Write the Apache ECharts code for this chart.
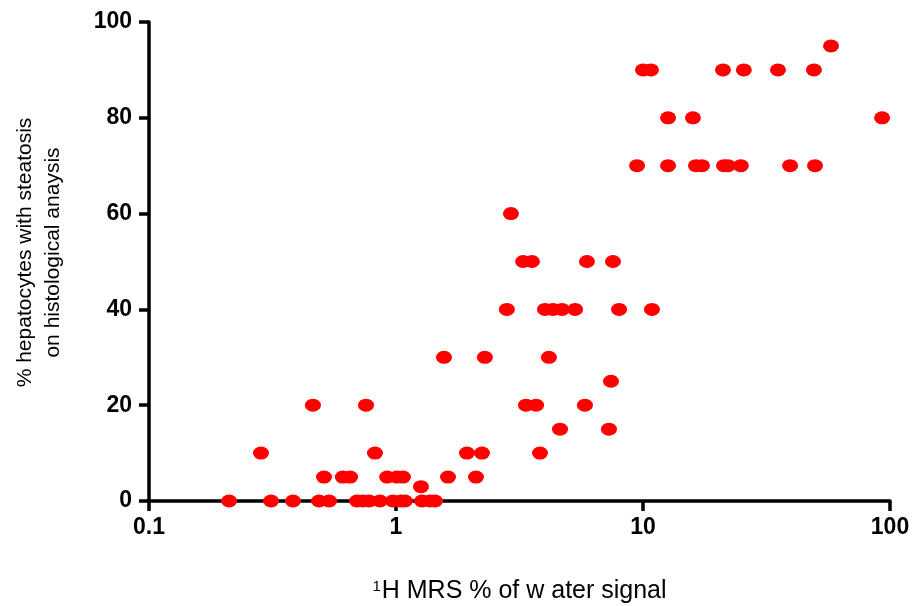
<!DOCTYPE html>
<html>
<head>
<meta charset="utf-8">
<script src="https://cdn.jsdelivr.net/npm/echarts@6/dist/echarts.min.js"></script>
<style>
  html, body { margin: 0; padding: 0; background: #fff; }
  #chart { width: 914px; height: 606px; }
</style>
</head>
<body>
<div id="chart"></div>
<script>
// MRS water-signal % (x, log scale) vs histological steatosis % (y)
const mrsValues = [
  0.211, 0.312, 0.383, 0.488, 0.536, 0.695, 0.734, 0.778, 0.861, 0.972, 1.048, 1.087, 1.274, 1.373, 1.438,
  1.262,
  0.511, 0.609, 0.652, 0.921, 1.009, 1.067, 1.624, 2.108,
  0.284, 0.822, 1.938, 2.229, 3.828,
  4.613, 7.28,
  0.461, 0.756, 3.36, 3.69, 5.82,
  7.42,
  1.564, 2.29, 4.16,
  2.81, 4.01, 4.32, 4.70, 5.31, 8.0, 10.87,
  3.27, 3.55, 5.93, 7.56,
  2.92,
  9.46, 12.63, 16.39, 17.33, 21.28, 22.08, 24.9, 39.4, 49.7,
  12.63, 15.93, 92.9,
  10.0, 10.77, 21.08, 25.6, 35.2, 49.2,
  57.7
];
const steatosisValues = [
  0, 0, 0, 0, 0, 0, 0, 0, 0, 0, 0, 0, 0, 0, 0,
  3,
  5, 5, 5, 5, 5, 5, 5, 5,
  10, 10, 10, 10, 10,
  15, 15,
  20, 20, 20, 20, 20,
  25,
  30, 30, 30,
  40, 40, 40, 40, 40, 40, 40,
  50, 50, 50, 50,
  60,
  70, 70, 70, 70, 70, 70, 70, 70, 70,
  80, 80, 80,
  90, 90, 90, 90, 90, 90,
  95
];
const xTickLabels = ['0.1', '1', '10', '100'];
const yTicks = [0, 20, 40, 60, 80, 100];

const points = mrsValues.map((v, i) => [v, steatosisValues[i]]);

const chart = echarts.init(document.getElementById('chart'));
chart.setOption({
  animation: false,
  backgroundColor: '#ffffff',
  grid: { left: 149, right: 24, top: 22, bottom: 105, containLabel: false, outerBoundsMode: 'none' },
  xAxis: {
    type: 'log',
    logBase: 10,
    min: 0.1,
    max: 100,
    name: '{sup|1}{t|H MRS % of w ater signal}',
    nameLocation: 'middle',
    nameGap: 78,
    nameTextStyle: {
      rich: {
        sup: { fontFamily: 'Liberation Sans', fontSize: 15, lineHeight: 15, color: '#000', verticalAlign: 'top', padding: [0, 1, 0, 0] },
        t: { fontFamily: 'Liberation Sans', fontSize: 25, lineHeight: 28, color: '#000', verticalAlign: 'top' }
      }
    },
    axisLine: { lineStyle: { color: '#000', width: 3.5 } },
    axisTick: { show: true, length: 10, lineStyle: { color: '#000', width: 3.5 } },
    minorTick: { show: false },
    splitLine: { show: false },
    axisLabel: {
      margin: 15,
      color: '#000',
      fontFamily: 'Liberation Sans',
      fontSize: 23,
      fontWeight: 'bold',
      formatter: function (v) {
        const idx = Math.round(Math.log10(v)) + 1;
        return xTickLabels[idx] || '';
      }
    }
  },
  yAxis: {
    type: 'value',
    min: 0,
    max: 100,
    interval: 20,
    name: '% hepatocytes with steatosis\non histological anaysis',
    nameLocation: 'middle',
    nameGap: 82,
    nameRotate: 90,
    nameTextStyle: {
      fontFamily: 'Liberation Sans',
      fontSize: 21,
      color: '#000',
      lineHeight: 28,
      padding: [0, 0, 0, 18]
    },
    axisLine: { show: true, lineStyle: { color: '#000', width: 3.5 } },
    axisTick: { show: true, length: 10, lineStyle: { color: '#000', width: 3.5 } },
    splitLine: { show: false },
    axisLabel: {
      margin: 17,
      color: '#000',
      fontFamily: 'Liberation Sans',
      fontSize: 23,
      fontWeight: 'bold',
      formatter: function (v) { return yTicks.indexOf(v) >= 0 ? String(v) : ''; }
    }
  },
  series: [{
    type: 'scatter',
    data: points,
    symbol: 'circle',
    symbolSize: [16, 13],
    itemStyle: { color: '#ff0000', opacity: 1 },
    z: 3
  }]
});
</script>
</body>
</html>
